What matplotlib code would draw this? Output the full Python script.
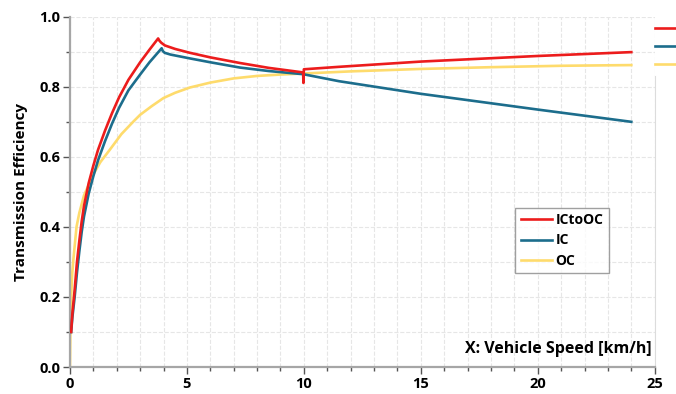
import numpy as np
import matplotlib.pyplot as plt
from matplotlib.ticker import MultipleLocator

# data
x_ictooc = [0.05, 0.1, 0.2, 0.3, 0.4, 0.5, 0.6, 0.8, 1.0, 1.2, 1.5, 1.8, 2.1, 2.5, 3.0,
            3.4, 3.77, 3.82, 3.9, 4.06, 4.5, 5.13, 6.0, 7.26, 8.5, 9.97, 9.98, 10.0,
            11.5, 15, 20, 24]
y_ictooc = [0.10, 0.15, 0.22, 0.30, 0.36, 0.415, 0.46, 0.525, 0.575, 0.62, 0.675, 0.725,
            0.77, 0.82, 0.87, 0.906, 0.938, 0.932, 0.926, 0.918, 0.908, 0.897, 0.884,
            0.868, 0.854, 0.841, 0.811, 0.85, 0.857, 0.872, 0.888, 0.899]

x_ic = [0.05, 0.1, 0.2, 0.3, 0.4, 0.5, 0.6, 0.8, 1.0, 1.2, 1.5, 1.8, 2.1, 2.5, 3.0, 3.4,
        3.92, 3.97, 4.05, 4.3, 5.13, 6.0, 7.26, 8.5, 9.97, 11.5, 15, 20, 24]
y_ic = [0.10, 0.14, 0.20, 0.27, 0.33, 0.385, 0.43, 0.495, 0.545, 0.59, 0.645, 0.695, 0.74,
        0.79, 0.835, 0.87, 0.91, 0.902, 0.897, 0.892, 0.881, 0.87, 0.855, 0.845, 0.836,
        0.816, 0.78, 0.735, 0.70]

x_oc = [0.0, 0.02, 0.05, 0.1, 0.15, 0.28, 0.4, 0.6, 0.8, 1.0, 1.3, 1.7, 2.2, 2.7, 3.0,
        3.5, 4.0, 4.5, 5.13, 6.0, 7.0, 8.0, 9.0, 10.0, 12.0, 15, 18, 21, 24]
y_oc = [0.0, 0.12, 0.2, 0.27, 0.31, 0.40, 0.44, 0.49, 0.52, 0.55, 0.585, 0.62, 0.665,
        0.70, 0.72, 0.745, 0.768, 0.783, 0.798, 0.812, 0.824, 0.831, 0.835, 0.838,
        0.844, 0.851, 0.856, 0.860, 0.862]

red = "#ec1c1c"
blue = "#1c6d8c"
yellow = "#fedb6c"
grey = "#a6a6a6"

plt.rcParams['font.family'] = ['Open Sans', 'DejaVu Sans']

fig = plt.figure(figsize=(6.76, 3.94), dpi=100)
ax = fig.add_axes([0.1035, 0.0685, 0.865, 0.889])

ax.plot(x_ictooc, y_ictooc, color=red, lw=1.9, label="ICtoOC", zorder=4)
ax.plot(x_ic, y_ic, color=blue, lw=1.9, label="IC", zorder=3)
ax.plot(x_oc, y_oc, color=yellow, lw=1.9, label="OC", zorder=2)

ax.set_xlim(0, 25)
ax.set_ylim(0, 1.0)
ax.xaxis.set_major_locator(MultipleLocator(5))
ax.xaxis.set_minor_locator(MultipleLocator(1))
ax.yaxis.set_major_locator(MultipleLocator(0.2))
ax.yaxis.set_minor_locator(MultipleLocator(0.1))
ax.yaxis.set_major_formatter(lambda v, p: f"{v:.1f}")

ax.grid(which='both', color='#e6e6e6', ls='--', lw=0.8)
ax.set_axisbelow(True)

for s in ['left', 'bottom']:
    ax.spines[s].set_color(grey)
    ax.spines[s].set_linewidth(1.6)
ax.spines['top'].set_visible(False)
ax.spines['right'].set_color('#dcdcdc')
ax.spines['right'].set_bounds(0, 0.83)

ax.tick_params(which='major', length=5, width=1, color='#555555', labelsize=10.5, pad=2)
ax.tick_params(which='minor', length=3, width=1, color='#555555')
ax.tick_params(axis='y', which='both', right=False)
for lab in ax.get_xticklabels() + ax.get_yticklabels():
    lab.set_fontweight('bold')

ax.set_ylabel("Transmission Efficiency", fontsize=11, fontweight='bold', labelpad=8)
ax.text(0.995, 0.03, "X: Vehicle Speed [km/h]", transform=ax.transAxes, ha='right',
        va='bottom', fontsize=11.5, fontweight='bold')

leg = ax.legend(loc='upper left', bbox_to_anchor=(0.75, 0.475), frameon=True, fancybox=False,
                handlelength=2.2, handletextpad=0.3, borderpad=0.4, labelspacing=0.45,
                prop={'weight': 'bold', 'size': 10})
leg.get_frame().set_edgecolor('#888888')
leg.get_frame().set_linewidth(1.0)

# short colour markers right of the plot
for c, yy in [(red, 0.968), (blue, 0.916), (yellow, 0.865)]:
    ax.plot([1.0, 1.04], [yy, yy], transform=ax.transAxes, color=c, lw=1.9, clip_on=False)

fig.savefig("out.png", dpi=100)
